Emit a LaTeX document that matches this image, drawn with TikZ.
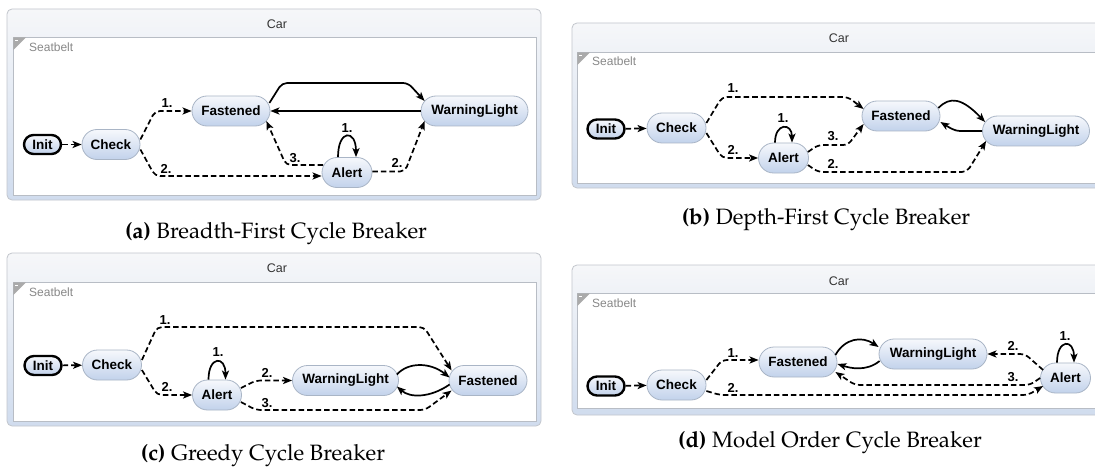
\documentclass[tikz,border=0pt]{standalone}
\usepackage[T1]{fontenc}
\usepackage{fontspec}
\newfontfamily\sansf{Liberation Sans}
\newcommand\capfont{\fontencoding{T1}\fontfamily{ppl}\selectfont}
\usetikzlibrary{arrows.meta,calc}
\definecolor{ntop}{HTML}{F6F8FC}
\definecolor{nbot}{HTML}{C2D2EB}
\definecolor{nbord}{HTML}{A9B5C6}
\definecolor{otop}{HTML}{F6F7F9}
\definecolor{obot}{HTML}{D0DCEE}
\definecolor{obord}{HTML}{C2C6CC}
\definecolor{ibord}{HTML}{B8BDC5}
\definecolor{tri}{HTML}{AAAAAA}
\definecolor{sbtext}{HTML}{888888}
\definecolor{cartext}{HTML}{333333}
\tikzset{
  st/.style={rectangle, rounded corners=15pt, minimum height=30pt, inner sep=0pt,
    draw=nbord, line width=0.8pt, top color=ntop, bottom color=nbot,
    font=\sansf\bfseries\fontsize{13.5}{15}\selectfont},
  ini/.style={rectangle, rounded corners=9.5pt, minimum height=19pt, minimum width=37pt,
    inner sep=0pt, draw=black, line width=2.4pt, top color=ntop, bottom color=nbot,
    font=\sansf\bfseries\fontsize{13.5}{15}\selectfont},
  e/.style={line width=1.7pt, -{Stealth[length=9pt,width=7pt,inset=2.2pt]}, rounded corners=5pt},
  dsh/.style={dash pattern=on 5.5pt off 3pt},
  lab/.style={font=\sansf\bfseries\fontsize{13}{15}\selectfont, inner sep=0pt},
  outerbox/.style={draw=obord, line width=0.8pt, rounded corners=5pt, top color=otop, bottom color=obot},
  innerbox/.style={draw=ibord, line width=0.8pt, fill=white},
  cartxt/.style={font=\sansf\fontsize{12.5}{14}\selectfont, text=cartext, inner sep=0pt},
  sbtxt/.style={font=\sansf\fontsize{12}{14}\selectfont, text=sbtext, inner sep=0pt, anchor=west},
  captxt/.style={inner sep=0pt},
}
\newcommand\captext[2]{\capfont\fontsize{22.2}{26}\selectfont\textbf{(#1)} #2}
\begin{document}
\begin{tikzpicture}[x=1pt,y=-1pt]
\useasboundingbox (0,0) rectangle (1095,468);
\fill[white] (0,0) rectangle (1095,468);
\clip (0,0) rectangle (1095,468);

% ---------------- Panel (a)
\draw[outerbox] (7,9) rectangle (541,200);
\draw[innerbox] (13,37) rectangle (536,195);
\fill[tri] (13.4,37.4) -- (26,37.4) -- (13.4,50) -- cycle;
\draw[white, line width=0.6pt] (15,40) -- (18,40);
\node[cartxt] (carA) at (277,24) {Car};
\node[sbtxt] (sbA) at (29,47) {Seatbelt};

\node[ini] (initA) at (42.5,144.5) {Init};
\node[st, minimum width=58pt] (checkA) at (111,144.5) {Check};
\node[st, minimum width=78pt] (fastA) at (231,111) {Fastened};
\node[st, minimum width=107pt] (warnA) at (474.5,111) {WarningLight};
\node[st, minimum width=50pt] (alertA) at (347,172.5) {Alert};

\draw[e,dsh] (initA) -- (checkA);
\draw[e,dsh] ($(checkA.east)+(0,-5)$) -- (155,111) -- (fastA.west);
\draw[e,dsh] ($(checkA.east)+(0,5)$) -- (155,176) -- ($(alertA.west)+(0,3.5)$);
\draw[e] ($(fastA.east)+(-1,-8)$) -- (282,83) -- (408,83) -- ($(warnA.west)+(4,-10)$);
\draw[e] (warnA.west) -- (fastA.east);
\draw[e] ($(alertA.north)+(-9,0)$) .. controls +(0,-28) and +(0,-28) .. ($(alertA.north)+(9,0)$);
\draw[e,dsh] ($(alertA.west)+(1.5,-7.5)$) -- (286,165) -- ($(fastA.east)+(-4,10)$);
\draw[e,dsh] ($(alertA.east)+(0,-1)$) -- (405,171.5) -- ($(warnA.west)+(4,10)$);
\node[lab] (la1) at (167,103) {1.};
\node[lab] (la2) at (166,169) {2.};
\node[lab] (la3) at (347,128) {1.};
\node[lab] (la4) at (295,158) {3.};
\node[lab] (la5) at (397,163) {2.};

\node[captxt] (capA) at (276,234) {\captext{a}{Breadth-First Cycle Breaker}};

% ---------------- Panel (b)
\draw[outerbox] (572,23) rectangle (1110,188);
\draw[innerbox] (577,52) rectangle (1105,183);
\fill[tri] (577.4,52.4) -- (590,52.4) -- (577.4,65) -- cycle;
\draw[white, line width=0.6pt] (579,55) -- (582,55);
\node[cartxt] (carB) at (839,38) {Car};
\node[sbtxt] (sbB) at (592,61) {Seatbelt};

\node[ini] (initB) at (606,129) {Init};
\node[st, minimum width=59pt] (checkB) at (676.5,128) {Check};
\node[st, minimum width=50pt] (alertB) at (783.5,158) {Alert};
\node[st, minimum width=78pt] (fastB) at (901,116) {Fastened};
\node[st, minimum width=107pt] (warnB) at (1036,131) {WarningLight};

\draw[e,dsh] (initB) -- (checkB);
\draw[e,dsh] ($(checkB.east)+(0,-5)$) -- (722,97) -- (848,97) -- ($(fastB.west)+(2,-7)$);
\draw[e,dsh] ($(checkB.east)+(0,5)$) -- (722,158) -- (alertB.west);
\draw[e] ($(alertB.north)+(-8.5,0)$) .. controls +(0,-20) and +(0,-20) .. ($(alertB.north)+(8.5,0)$);
\draw[e,dsh] ($(alertB.east)+(-1,-6)$) -- (818,145) -- (848,145) -- ($(fastB.west)+(2,8)$);
\draw[e,dsh] ($(alertB.east)+(-1,7)$) -- (818,172) -- (967,172) -- ($(warnB.west)+(4,10)$);
\draw[e] ($(fastB.east)+(-2,-8)$) .. controls (950,96) and (962,98) .. ($(warnB.west)+(3,-9)$);
\draw[e] (warnB.west) -- (965,131) .. controls (955,131) and (950,128) .. ($(fastB.east)+(0,6)$);
\node[lab] (lb1) at (733,88) {1.};
\node[lab] (lb2) at (733,150) {2.};
\node[lab] (lb3) at (783,118) {1.};
\node[lab] (lb4) at (833,136) {3.};
\node[lab] (lb5) at (833,164) {2.};

\node[captxt] (capB) at (826,220) {\captext{b}{Depth-First Cycle Breaker}};

% ---------------- Panel (c)
\draw[outerbox] (7,253) rectangle (541,426);
\draw[innerbox] (13,282) rectangle (536,421);
\fill[tri] (13.4,282.4) -- (26,282.4) -- (13.4,295) -- cycle;
\draw[white, line width=0.6pt] (15,285) -- (18,285);
\node[cartxt] (carC) at (277,268) {Car};
\node[sbtxt] (sbC) at (29,292) {Seatbelt};

\node[ini] (initC) at (43,365.5) {Init};
\node[st, minimum width=59pt] (checkC) at (112,365) {Check};
\node[st, minimum width=49pt] (alertC) at (217,395) {Alert};
\node[st, minimum width=106pt] (warnC) at (345.5,380.5) {WarningLight};
\node[st, minimum width=78pt] (fastC) at (488,380.5) {Fastened};

\draw[e,dsh] (initC) -- (checkC);
\draw[e,dsh] ($(checkC.east)+(0,-5)$) -- (157,327) -- (424,327) -- ($(fastC.west)+(3,-10)$);
\draw[e,dsh] ($(checkC.east)+(0,5)$) -- (157,395) -- (alertC.west);
\draw[e] ($(alertC.north)+(-8.5,0)$) .. controls +(0,-24) and +(0,-24) .. ($(alertC.north)+(8.5,0)$);
\draw[e,dsh] ($(alertC.east)+(-1,-7)$) -- (256,380.5) -- (warnC.west);
\draw[e,dsh] ($(alertC.east)+(-1,7)$) -- (256,410) -- (425,410) -- ($(fastC.west)+(3,10)$);
\draw[e] ($(warnC.east)+(-2,-6)$) .. controls (408,362) and (430,362) .. ($(fastC.west)+(1,-3)$);
\draw[e] ($(fastC.west)+(1,4)$) .. controls (430,398) and (410,398) .. ($(warnC.east)+(-2,6)$);
\node[lab] (lc1) at (165,320) {1.};
\node[lab] (lc2) at (167,387) {2.};
\node[lab] (lc3) at (218,352) {1.};
\node[lab] (lc4) at (267,373) {2.};
\node[lab] (lc5) at (267,403) {3.};

\node[captxt] (capC) at (263,456) {\captext{c}{Greedy Cycle Breaker}};

% ---------------- Panel (d)
\draw[outerbox] (572,265) rectangle (1110,415);
\draw[innerbox] (577,293) rectangle (1105,408);
\fill[tri] (577.4,293.4) -- (590,293.4) -- (577.4,306) -- cycle;
\draw[white, line width=0.6pt] (579,296) -- (582,296);
\node[cartxt] (carD) at (839,281) {Car};
\node[sbtxt] (sbD) at (592,303) {Seatbelt};

\node[ini] (initD) at (606,386) {Init};
\node[st, minimum width=59pt] (checkD) at (676.5,385) {Check};
\node[st, minimum width=78pt] (fastD) at (798,362) {Fastened};
\node[st, minimum width=108pt] (warnD) at (933,354) {WarningLight};
\node[st, minimum width=50pt] (alertD) at (1065.5,378) {Alert};

\draw[e,dsh] (initD) -- (checkD);
\draw[e,dsh] ($(checkD.east)+(0,-5)$) -- (722,360) -- ($(fastD.west)+(0,-2)$);
\draw[e,dsh] ($(checkD.east)+(0,6)$) -- (720,395) -- (1028,395) -- ($(alertD.west)+(3,8)$);
\draw[e] ($(fastD.east)+(-2,-7)$) .. controls (845,338) and (862,336) .. ($(warnD.west)+(0,-7)$);
\draw[e] ($(warnD.west)+(1,7)$) .. controls (866,372) and (850,368) .. ($(fastD.east)+(0,2)$);
\draw[e,dsh] ($(alertD.west)+(3,-8)$) -- (1025,354) -- (warnD.east);
\draw[e,dsh] (alertD.west) -- (1030,385) -- (855,385) -- ($(fastD.east)+(-2,10)$);
\draw[e] ($(alertD.north)+(-8.5,0)$) .. controls +(0,-24) and +(0,-24) .. ($(alertD.north)+(8.5,0)$);
\node[lab] (ld1) at (733,353) {1.};
\node[lab] (ld2) at (733,388) {2.};
\node[lab] (ld3) at (1013,346) {2.};
\node[lab] (ld4) at (1013,377) {3.};
\node[lab] (ld5) at (1065,336) {1.};

\node[captxt] (capD) at (830,443) {\captext{d}{Model Order Cycle Breaker}};
\end{tikzpicture}
\end{document}
